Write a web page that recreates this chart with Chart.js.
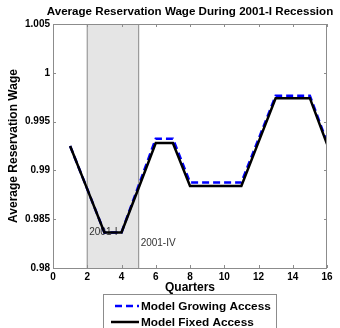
<!DOCTYPE html>
<html>
<head>
<meta charset="utf-8">
<script src="https://cdn.jsdelivr.net/npm/chart.js@4/dist/chart.umd.min.js"></script>
<style>
  html, body { margin: 0; padding: 0; background: #fff; }
  #wrap { width: 340px; height: 328px; }
</style>
</head>
<body>
<div id="wrap"><canvas id="c" width="340" height="328"></canvas></div>
<script>
// Quarters since 2001-I
const quarters = [1, 2, 3, 4, 5, 6, 7, 8, 9, 10, 11, 12, 13, 14, 15, 16];
// Average reservation wage, model with growing access
const growingAccess = [0.9925, 0.9881, 0.98365, 0.98365, 0.98845, 0.99325, 0.99325, 0.98877,
  0.98877, 0.98877, 0.98877, 0.9932, 0.99765, 0.99765, 0.99765, 0.9929];
// Average reservation wage, model with fixed access
const fixedAccess = [0.9925, 0.98808, 0.98365, 0.98365, 0.9882, 0.9928, 0.9928, 0.9884,
  0.9884, 0.9884, 0.9884, 0.9929, 0.9974, 0.9974, 0.9974, 0.9927];
// Recession window (quarters) and its labels
const recession = [2, 5];
const recessionLabels = [
  { text: '2001-I', x: 2, y: 0.98365 },
  { text: '2001-IV', x: 5, y: 0.9825 }
];
const xTicks = [0, 2, 4, 6, 8, 10, 12, 14, 16];
const yTicks = [0.98, 0.985, 0.99, 0.995, 1, 1.005];

const titleText = 'Average Reservation Wage During 2001-I Recession';
const seriesNames = ['Model Growing Access', 'Model Fixed Access'];

const FAMILY = '"Liberation Sans", Arial, sans-serif';

const decorations = {
  id: 'decorations',
  beforeDatasetsDraw(chart) {
    const { ctx, chartArea: a, scales: { x, y } } = chart;
    ctx.save();
    const x0 = x.getPixelForValue(recession[0]);
    const x1 = x.getPixelForValue(recession[1]);
    ctx.fillStyle = '#e5e5e5';
    ctx.fillRect(x0, a.top, x1 - x0, a.bottom - a.top);
    ctx.strokeStyle = '#9a9a9a';
    ctx.lineWidth = 1.2;
    ctx.beginPath();
    ctx.moveTo(x0, a.top); ctx.lineTo(x0, a.bottom);
    ctx.moveTo(x1, a.top); ctx.lineTo(x1, a.bottom);
    ctx.stroke();
    // recession labels
    ctx.fillStyle = '#333';
    ctx.font = '10px ' + FAMILY;
    ctx.textBaseline = 'middle';
    ctx.textAlign = 'left';
    recessionLabels.forEach(l => {
      ctx.fillText(l.text, x.getPixelForValue(l.x) + 2, y.getPixelForValue(l.y));
    });
    ctx.restore();
  },
  afterDraw(chart) {
    const { ctx, chartArea: a, scales: { x, y } } = chart;
    ctx.save();
    // axes box
    ctx.strokeStyle = '#8c8c8c';
    ctx.lineWidth = 1;
    ctx.strokeRect(Math.round(a.left) + 0.5, Math.round(a.top) + 0.5,
      Math.round(a.right - a.left) - 1, Math.round(a.bottom - a.top));
    // inward ticks
    ctx.beginPath();
    xTicks.forEach(v => {
      const px = Math.round(x.getPixelForValue(v)) + 0.5;
      ctx.moveTo(px, a.bottom); ctx.lineTo(px, a.bottom - 3);
      ctx.moveTo(px, a.top); ctx.lineTo(px, a.top + 3);
    });
    yTicks.forEach(v => {
      const py = Math.round(y.getPixelForValue(v)) + 0.5;
      ctx.moveTo(a.left, py); ctx.lineTo(a.left + 3, py);
      ctx.moveTo(a.right, py); ctx.lineTo(a.right - 3, py);
    });
    ctx.stroke();
    // title
    ctx.fillStyle = '#000';
    ctx.font = 'bold 11.6px ' + FAMILY;
    ctx.textAlign = 'center';
    ctx.textBaseline = 'middle';
    ctx.fillText(titleText, (a.left + a.right) / 2, 12);
    // legend
    const lx = 103, ly = 294, lw = 173, lh = 40;
    ctx.fillStyle = '#fff';
    ctx.fillRect(lx, ly, lw, lh);
    ctx.strokeStyle = '#8c8c8c';
    ctx.lineWidth = 1;
    ctx.strokeRect(lx + 0.5, ly + 0.5, lw, lh);
    ctx.font = 'bold 11.8px ' + FAMILY;
    ctx.textAlign = 'left';
    const rows = [306, 322];
    chart.data.datasets.forEach((ds, i) => {
      ctx.strokeStyle = ds.borderColor;
      ctx.lineWidth = ds.borderWidth;
      ctx.setLineDash(ds.borderDash || []);
      ctx.beginPath();
      ctx.moveTo(i === 0 ? 115 : 111, rows[i]); ctx.lineTo(139, rows[i]);
      ctx.stroke();
      ctx.setLineDash([]);
      ctx.fillStyle = '#000';
      ctx.fillText(ds.label, 141, rows[i] + 0.5);
    });
    ctx.restore();
  }
};

new Chart(document.getElementById('c'), {
  type: 'line',
  data: {
    datasets: [
      {
        label: seriesNames[0],
        data: quarters.map((q, i) => ({ x: q, y: growingAccess[i] })),
        borderColor: '#0000ff',
        borderWidth: 2.5,
        borderDash: [7, 4],
        pointRadius: 0,
        fill: false,
        tension: 0,
        order: 2
      },
      {
        label: seriesNames[1],
        data: quarters.map((q, i) => ({ x: q, y: fixedAccess[i] })),
        borderColor: '#000000',
        borderWidth: 2.5,
        pointRadius: 0,
        fill: false,
        tension: 0,
        order: 1
      }
    ]
  },
  options: {
    responsive: false,
    animation: false,
    devicePixelRatio: 1,
    layout: { padding: { top: 24, right: 13, bottom: 33, left: 0 } },
    plugins: { legend: { display: false }, tooltip: { enabled: false }, title: { display: false } },
    scales: {
      x: {
        type: 'linear',
        min: 0, max: 16,
        afterBuildTicks: s => { s.ticks = xTicks.map(v => ({ value: v })); },
        grid: { display: false, drawTicks: false },
        border: { display: false },
        ticks: { color: '#000', font: { family: FAMILY, size: 10, weight: 'bold' }, padding: 3, maxRotation: 0 },
        title: { display: true, text: 'Quarters', color: '#000', font: { family: FAMILY, size: 12, weight: 'bold' }, padding: { top: 2, bottom: 0 } },
        afterFit: s => { s.height = 27; }
      },
      y: {
        type: 'linear',
        min: 0.98, max: 1.005,
        afterBuildTicks: s => { s.ticks = yTicks.map(v => ({ value: v })); },
        grid: { display: false, drawTicks: false },
        border: { display: false },
        ticks: { color: '#000', font: { family: FAMILY, size: 10, weight: 'bold' }, padding: 3, callback: v => String(+v.toFixed(3)) },
        title: { display: true, text: 'Average Reservation Wage', color: '#000', font: { family: FAMILY, size: 12, weight: 'bold' }, padding: { top: 6, bottom: 2 } },
        afterFit: s => { s.width = 53; }
      }
    }
  },
  plugins: [decorations]
});
</script>
</body>
</html>
